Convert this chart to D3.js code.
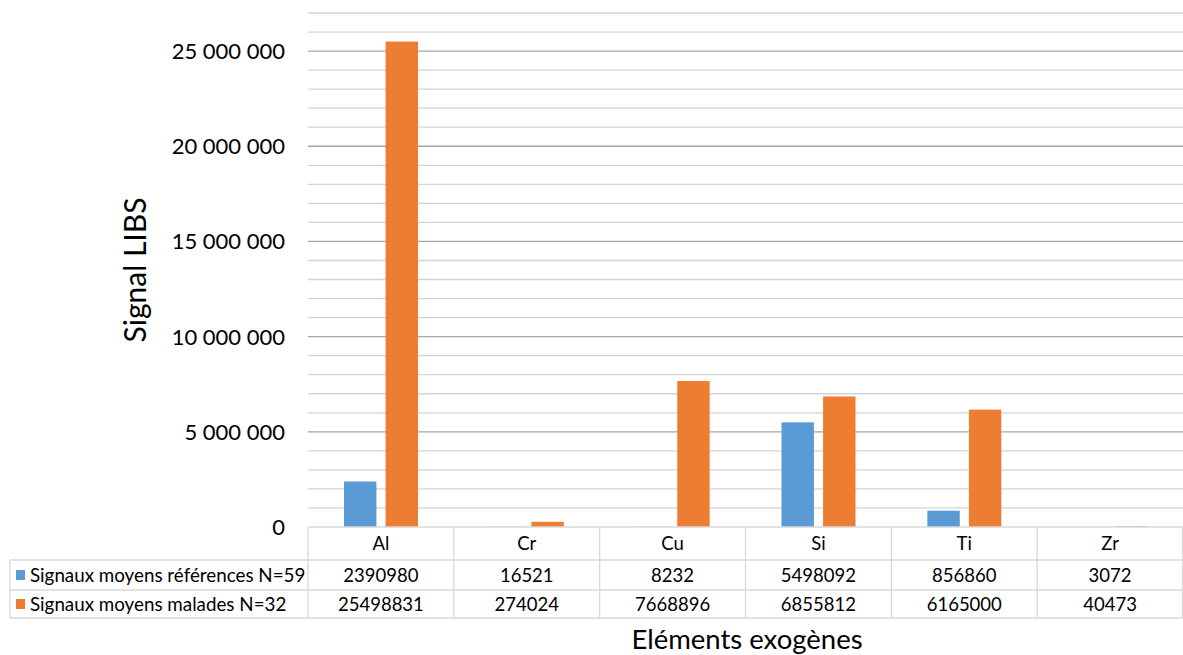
<!DOCTYPE html>
<html><head><meta charset="utf-8">
<script src="https://cdn.jsdelivr.net/npm/d3@7"></script>
<style>body{margin:0;background:#fff;}svg{display:block;font-family:Lato,"Open Sans",sans-serif;}</style>
</head><body>
<svg id="c" width="1183" height="655"></svg>
<script>
const categories = ["Al","Cr","Cu","Si","Ti","Zr"];
const seriesNames = ["Signaux moyens références N=59","Signaux moyens malades N=32"];
const refValues = [2390980,16521,8232,5498092,856860,3072];
const maladesValues = [25498831,274024,7668896,6855812,6165000,40473];
const colors = ["#5b9bd5","#ed7d31"];
const majorTicks = [0,5000000,10000000,15000000,20000000,25000000];
const yMax = 27000000;

const svg = d3.select("#c");
const L = 308, R = 1183, T = 13, B = 527;
const x = d3.scaleBand().domain(categories).range([L,R]);
const x1 = d3.scaleBand().domain([0,1]).range([36,110]).paddingInner(0.22);
const y = d3.scaleLinear().domain([0,yMax]).range([B,T]);

// gridlines
const minor = d3.range(1000000, yMax+1, 1000000).filter(v => v % 5000000 !== 0);
svg.append("g").selectAll("line").data(minor).join("line")
  .attr("x1",L).attr("x2",R).attr("y1",d=>y(d)).attr("y2",d=>y(d))
  .attr("stroke","#d4d4d4").attr("stroke-width",1.3);
svg.append("g").selectAll("line").data(majorTicks.filter(d=>d>0)).join("line")
  .attr("x1",L).attr("x2",R).attr("y1",d=>y(d)).attr("y2",d=>y(d))
  .attr("stroke","#a6a6a6").attr("stroke-width",1.3);

// y labels
const fmt = v => d3.format(",")(v).replace(/,/g," ");
svg.append("g").selectAll("text").data(majorTicks).join("text")
  .attr("x",285).attr("y",d=>y(d)).attr("dy","0.36em").attr("text-anchor","end")
  .attr("font-size",22).attr("fill","#000").text(fmt);

// bars
const series = [refValues, maladesValues];
series.forEach((vals,si)=>{
  svg.append("g").selectAll("rect").data(vals).join("rect")
    .attr("x",(d,i)=>x(categories[i])+x1(si)).attr("width",x1.bandwidth())
    .attr("y",d=>y(d)).attr("height",d=>B-y(d)).attr("fill",colors[si]);
});

// table
const rowY = [527,560,590,618];
const tc = "#d9d9d9";
const tg = svg.append("g");
tg.append("line").attr("x1",L).attr("x2",R).attr("y1",rowY[0]).attr("y2",rowY[0]).attr("stroke",tc).attr("stroke-width",1.3);
[1,2,3].forEach(k=>tg.append("line").attr("x1",10).attr("x2",R).attr("y1",rowY[k]).attr("y2",rowY[k]).attr("stroke",tc).attr("stroke-width",1.3));
categories.forEach(c=>tg.append("line").attr("x1",x(c)).attr("x2",x(c)).attr("y1",rowY[0]).attr("y2",rowY[3]).attr("stroke",tc).attr("stroke-width",1.3));
tg.append("line").attr("x1",R-0.5).attr("x2",R-0.5).attr("y1",rowY[0]).attr("y2",rowY[3]).attr("stroke",tc);
tg.append("line").attr("x1",10).attr("x2",10).attr("y1",rowY[1]).attr("y2",rowY[3]).attr("stroke",tc).attr("stroke-width",1.3);

tg.selectAll("text.h").data(categories).join("text").attr("class","h")
  .attr("x",d=>x(d)+x.bandwidth()/2).attr("y",(rowY[0]+rowY[1])/2).attr("dy","0.36em")
  .attr("text-anchor","middle").attr("font-size",18.5).text(d=>d);
series.forEach((vals,si)=>{
  const cy = (rowY[si+1]+rowY[si+2])/2;
  tg.append("g").selectAll("text").data(vals).join("text")
    .attr("x",(d,i)=>x(categories[i])+x.bandwidth()/2).attr("y",cy).attr("dy","0.36em")
    .attr("text-anchor","middle").attr("font-size",18.5).text(d=>d);
  tg.append("rect").attr("x",16).attr("y",cy-5).attr("width",9).attr("height",10).attr("fill",colors[si]);
  tg.append("text").attr("x",30).attr("y",cy).attr("dy","0.36em").attr("font-size",18.8).text(seriesNames[si]);
});

// axis titles
svg.append("text").attr("transform","translate(146,270) rotate(-90)").attr("text-anchor","middle")
  .attr("font-size",30).text("Signal LIBS");
svg.append("text").attr("x",747).attr("y",649).attr("text-anchor","middle")
  .attr("font-size",27.5).text("Eléments exogènes");
</script>
</body></html>
